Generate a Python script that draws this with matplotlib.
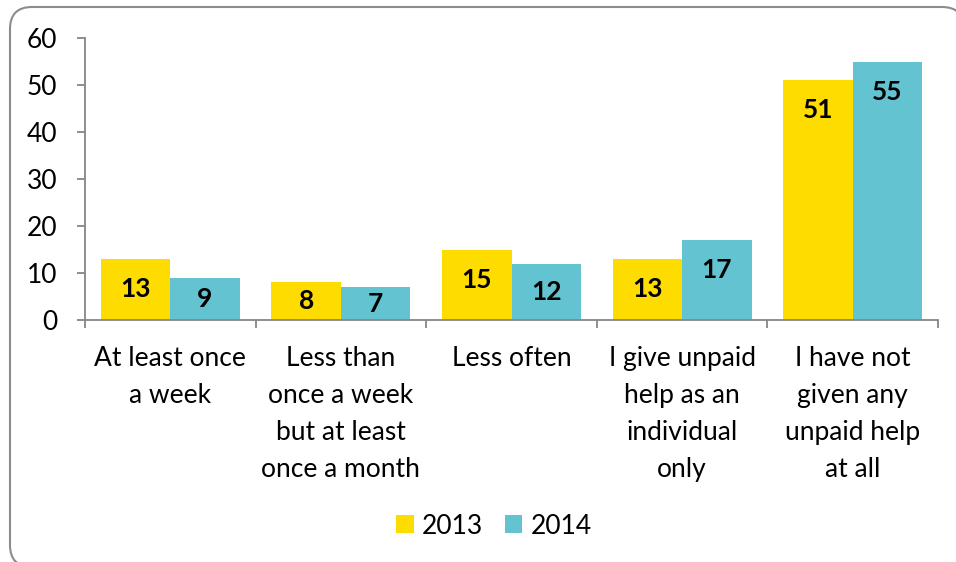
import matplotlib
matplotlib.use("Agg")
import matplotlib.pyplot as plt
from matplotlib.patches import FancyBboxPatch
import numpy as np

categories = [
    "At least once\na week",
    "Less than\nonce a week\nbut at least\nonce a month",
    "Less often",
    "I give unpaid\nhelp as an\nindividual\nonly",
    "I have not\ngiven any\nunpaid help\nat all",
]
series_names = ["2013", "2014"]
values_2013 = [13, 8, 15, 13, 51]
values_2014 = [9, 7, 12, 17, 55]
y_ticks = [0, 10, 20, 30, 40, 50, 60]

colors = ["#FFDC00", "#63C3D1"]
axis_gray = "#868686"
font = ["Lato", "DejaVu Sans"]
fs = 19

plt.rcParams["font.family"] = font

W, H = 956, 562
fig = plt.figure(figsize=(W / 100, H / 100), dpi=100)

# rounded outer frame drawn in pixel space (runs past the right and bottom edges)
bg = fig.add_axes([0, 0, 1, 1], zorder=0)
bg.set_xlim(0, W)
bg.set_ylim(H, 0)
bg.axis("off")
frame = FancyBboxPatch((10, 7), 954, 560,
                       boxstyle="round,pad=0,rounding_size=22",
                       facecolor="white", edgecolor="#8C8C8C", linewidth=1.5,
                       clip_on=False)
bg.add_patch(frame)

ax = fig.add_axes([85 / W, 1 - 320 / H, (938 - 85) / W, (320 - 38) / H], zorder=1)
ax.set_facecolor("none")

x = np.arange(len(categories))
bw = 0.4075
bars_a = ax.bar(x - bw / 2, values_2013, bw, color=colors[0], label=series_names[0], zorder=2)
bars_b = ax.bar(x + bw / 2, values_2014, bw, color=colors[1], label=series_names[1], zorder=2)

ax.set_xlim(-0.5, len(categories) - 0.5)
ax.set_ylim(0, 60)

# value labels: just inside the bar end, centred in the bar when it is short
inset = 6.4
for bars, vals in ((bars_a, values_2013), (bars_b, values_2014)):
    for b, v in zip(bars, vals):
        ypos = max(v - inset, v / 2)
        ax.text(b.get_x() + b.get_width() / 2, ypos, str(v), ha="center", va="center",
                fontsize=fs, fontweight="bold", color="black", zorder=3)

for s in ("top", "right"):
    ax.spines[s].set_visible(False)
for s in ("left", "bottom"):
    ax.spines[s].set_color(axis_gray)
    ax.spines[s].set_linewidth(1.3)

ax.set_yticks(y_ticks)
ax.tick_params(axis="y", direction="out", length=6, width=1.3, color=axis_gray,
               labelsize=fs, pad=14)

ax.set_xticks(x)
ax.set_xticklabels(categories, fontsize=fs, linespacing=1.6, va="top")
ax.set_xticks(np.arange(-0.5, len(categories)), minor=True)
ax.tick_params(axis="x", which="major", length=0, pad=19)
ax.tick_params(axis="x", which="minor", direction="out", length=6, width=1.3, color=axis_gray)

leg = fig.legend(handles=[bars_a, bars_b], labels=series_names, loc="center",
                 bbox_to_anchor=(494 / W, 1 - 526 / H), ncol=2, frameon=False,
                 fontsize=fs, handlelength=0.65, handleheight=0.65, handletextpad=0.3,
                 columnspacing=0.85)

fig.savefig("out.png", dpi=100)
